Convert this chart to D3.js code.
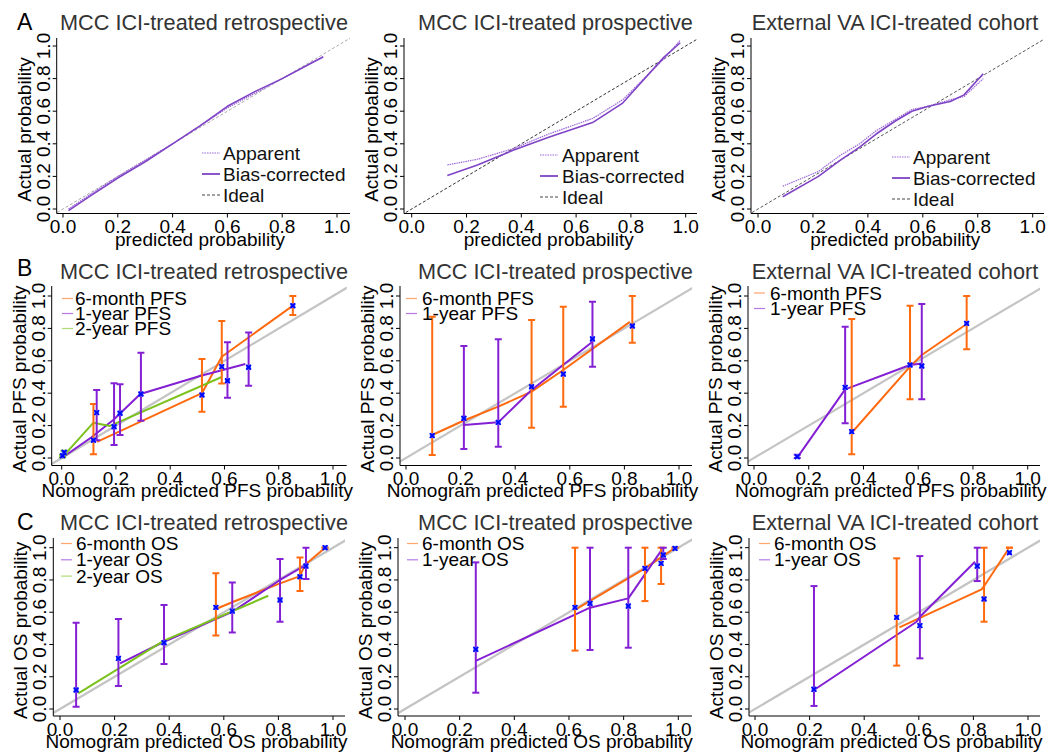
<!DOCTYPE html>
<html><head><meta charset="utf-8">
<script src="https://cdn.jsdelivr.net/npm/d3@7"></script>
<style>
body{margin:0;background:#fff;}
text{font-family:"Liberation Sans",Arial,sans-serif;}
</style></head><body>
<svg id="fig" width="1052" height="752"></svg>
<script>
// ---- data ----
const ticks = [0, 0.2, 0.4, 0.6, 0.8, 1.0];
const tickLabels = ["0.0", "0.2", "0.4", "0.6", "0.8", "1.0"];
const titles = ["MCC ICI-treated retrospective", "MCC ICI-treated prospective", "External VA ICI-treated cohort"];
const rowLetters = ["A", "B", "C"];

// row A : apparent / bias-corrected calibration curves
const aRetroApparent = [[0.02,0.0],[0.1,0.09],[0.2,0.2],[0.3,0.3],[0.4,0.4],[0.5,0.51],[0.6,0.62],[0.7,0.71],[0.8,0.8],[0.9,0.89],[0.95,0.93]];
const aRetroCorrected = [[0.02,-0.01],[0.1,0.08],[0.2,0.19],[0.3,0.29],[0.4,0.4],[0.5,0.51],[0.6,0.63],[0.7,0.72],[0.8,0.8],[0.9,0.89],[0.95,0.935]];
const aProsApparent = [[0.13,0.27],[0.24,0.305],[0.37,0.37],[0.5,0.46],[0.66,0.555],[0.77,0.67],[0.92,0.92],[0.98,1.035]];
const aProsCorrected = [[0.13,0.205],[0.24,0.27],[0.37,0.36],[0.5,0.44],[0.66,0.53],[0.77,0.65],[0.92,0.93],[0.98,1.02]];
const aExtApparent = [[0.09,0.14],[0.22,0.23],[0.3,0.33],[0.37,0.4],[0.43,0.48],[0.5,0.55],[0.56,0.61],[0.62,0.63],[0.7,0.67],[0.75,0.69],[0.82,0.8]];
const aExtCorrected = [[0.09,0.075],[0.22,0.2],[0.3,0.3],[0.37,0.38],[0.43,0.46],[0.5,0.54],[0.56,0.6],[0.62,0.63],[0.7,0.66],[0.75,0.7],[0.82,0.83]];

// row B : PFS  (points are [predicted, observed, lower, upper])
const bRetro6mLine = [[0.13,0.10],[0.517,0.40],[0.59,0.625],[0.855,0.944]];
const bRetro6mPts = [[0.117,0.11,0.023,0.333],[0.517,0.389,0.286,0.611],[0.59,0.564,0.46,0.846],[0.852,0.94,0.883,1.0]];
const bRetro1yLine = [[0.0,0.0],[0.11,0.128],[0.19,0.235],[0.29,0.395],[0.51,0.506],[0.677,0.58]];
const bRetro1yPts = [[0.129,0.28,0.11,0.42],[0.193,0.193,0.08,0.461],[0.215,0.276,0.142,0.455],[0.292,0.395,0.23,0.65],[0.611,0.477,0.372,0.714],[0.689,0.56,0.446,0.774]];
const bRetro2yLine = [[0.005,0.01],[0.117,0.218],[0.178,0.198],[0.59,0.50]];
const bRetro2yPts = [[0.009,0.035,0.025,0.045],[0.003,0.014,0.005,0.02]];

const bPros6mLine = [[0.096,0.142],[0.21,0.23],[0.338,0.317],[0.46,0.41],[0.576,0.543],[0.82,0.84]];
const bPros6mPts = [[0.096,0.138,0.019,0.872],[0.46,0.44,0.187,0.852],[0.576,0.518,0.317,0.934],[0.829,0.815,0.712,1.0]];
const bPros1yLine = [[0.212,0.204],[0.338,0.22],[0.46,0.42],[0.683,0.718]];
const bPros1yPts = [[0.212,0.245,0.056,0.691],[0.338,0.22,0.07,0.733],[0.683,0.735,0.564,0.965]];

const bExt6mLine = [[0.357,0.156],[0.57,0.564],[0.613,0.636],[0.777,0.827]];
const bExt6mPts = [[0.357,0.163,0.023,0.858],[0.57,0.574,0.362,0.94],[0.777,0.831,0.671,1.0]];
const bExt1yLine = [[0.156,-0.002],[0.333,0.424],[0.57,0.574],[0.613,0.584]];
const bExt1yPts = [[0.158,0.008,0.0,0.02],[0.333,0.436,0.214,0.81],[0.613,0.568,0.362,0.95]];

// row C : OS
const cRetro6mLine = [[0.571,0.62],[0.635,0.665],[0.806,0.779],[0.879,0.824],[0.897,0.893],[0.971,1.0]];
const cRetro6mPts = [[0.571,0.63,0.455,0.841],[0.879,0.82,0.731,0.94],[0.971,1.0,1.0,1.0]];
const cRetro1yLine = [[0.22,0.283],[0.381,0.417],[0.631,0.603],[0.806,0.8],[0.901,0.893]];
const cRetro1yPts = [[0.059,0.118,0.014,0.535],[0.214,0.314,0.143,0.558],[0.381,0.411,0.279,0.645],[0.631,0.607,0.475,0.785],[0.806,0.676,0.541,0.93],[0.901,0.886,0.806,1.0]];
const cRetro2yLine = [[0.067,0.097],[0.381,0.424],[0.763,0.702]];

const cPros6mLine = [[0.622,0.614],[0.878,0.872],[0.988,1.0]];
const cPros6mPts = [[0.622,0.63,0.362,1.0],[0.878,0.872,0.669,1.0],[0.937,0.903,0.775,1.0],[0.988,0.996,1.0,1.0]];
const cPros1yLine = [[0.259,0.298],[0.677,0.628],[0.817,0.686],[0.937,0.98]];
const cPros1yPts = [[0.259,0.37,0.101,0.909],[0.677,0.655,0.366,1.0],[0.817,0.638,0.38,1.0],[0.945,0.955,0.93,1.0]];

const cExt6mLine = [[0.529,0.506],[0.83,0.742],[0.842,0.769],[0.928,0.99]];
const cExt6mPts = [[0.519,0.568,0.269,0.934],[0.839,0.682,0.541,1.0],[0.932,0.969,1.0,1.0]];
const cExt1yLine = [[0.216,0.118],[0.592,0.541],[0.604,0.572],[0.806,0.913]];
const cExt1yPts = [[0.216,0.122,0.019,0.762],[0.604,0.517,0.314,0.948],[0.814,0.886,0.793,1.0]];

const legendA = ["Apparent", "Bias-corrected", "Ideal"];
const legendPFS = ["6-month PFS", "1-year PFS", "2-year PFS"];
const legendOS = ["6-month OS", "1-year OS", "2-year OS"];

// ---- styles ----
const ORANGE = "#ff6a0f", PURPLE = "#8420d4", GREEN = "#7cc21e", BLUE = "#0000ff";
const CAL = "#7f43c6";

// ---- layout (pixel frames for each panel) ----
const titleCenters = [204, 555.5, 895];
const rows = [
  {y0: 209, y1: 46, top: 38, bottom: 213.5, title: 29.5, tickBase: 233, xlab: 246, letter: 29.5,
   cols: [{left: 56.7, x0: 63, x1: 337, right: 350}, {left: 404, x0: 411.7, x1: 685.7, right: 697}, {left: 751, x0: 758, x1: 1032.7, right: 1044}]},
  {y0: 458, y1: 296, top: 286, bottom: 465.5, title: 278.5, tickBase: 485, xlab: 497, letter: 275.5,
   cols: [{left: 51.7, x0: 61.7, x1: 333, right: 346.7}, {left: 400, x0: 406, x1: 679, right: 692}, {left: 748, x0: 754, x1: 1027.7, right: 1040}]},
  {y0: 709, y1: 547.7, top: 538, bottom: 716, title: 529.5, tickBase: 736, xlab: 748, letter: 529.5,
   cols: [{left: 53.3, x0: 60, x1: 333, right: 345}, {left: 398, x0: 405, x1: 678.3, right: 692}, {left: 749, x0: 755, x1: 1028, right: 1040}]}
];

const svg = d3.select("#fig");
svg.append("rect").attr("width", 1052).attr("height", 752).attr("fill", "#fff");
const line = d3.line();
let clipId = 0;

function makePanel(r, c, ylab, xlab) {
  const R = rows[r], C = R.cols[c];
  const x = d3.scaleLinear().domain([0, 1]).range([C.x0, C.x1]);
  const y = d3.scaleLinear().domain([0, 1]).range([R.y0, R.y1]);
  const g = svg.append("g");
  const id = "clip" + (clipId++);
  g.append("clipPath").attr("id", id).append("rect")
    .attr("x", C.left).attr("y", R.top).attr("width", C.right - C.left).attr("height", R.bottom - R.top);
  const plot = g.append("g").attr("clip-path", "url(#" + id + ")");

  // frame (L shaped box)
  g.append("path").attr("d", `M${C.left},${R.top}V${R.bottom}H${C.right}`)
    .attr("fill", "none").attr("stroke", "#000").attr("stroke-width", 1);
  // x ticks
  g.selectAll(".xt").data(ticks).enter().append("line")
    .attr("x1", d => x(d)).attr("x2", d => x(d)).attr("y1", R.bottom).attr("y2", R.bottom + 4)
    .attr("stroke", "#000");
  g.selectAll(".xl").data(ticks).enter().append("text")
    .attr("x", d => x(d)).attr("y", R.tickBase).attr("text-anchor", "middle")
    .attr("font-size", 19).text((d, i) => tickLabels[i]);
  // y ticks
  g.selectAll(".yt").data(ticks).enter().append("line")
    .attr("x1", C.left - 4).attr("x2", C.left).attr("y1", d => y(d)).attr("y2", d => y(d))
    .attr("stroke", "#000");
  g.selectAll(".yl").data(ticks).enter().append("text")
    .attr("transform", d => `translate(${C.left - 7},${y(d)}) rotate(-90)`)
    .attr("text-anchor", "middle").attr("font-size", 19).text((d, i) => tickLabels[i]);
  // labels
  g.append("text").attr("x", (C.x0 + C.x1) / 2).attr("y", R.xlab).attr("text-anchor", "middle")
    .attr("font-size", 19).text(xlab);
  g.append("text").attr("transform", `translate(${C.left - 26},${(R.y0 + R.y1) / 2 + 2}) rotate(-90)`)
    .attr("text-anchor", "middle").attr("font-size", 19).text(ylab);
  g.append("text").attr("x", titleCenters[c]).attr("y", R.title).attr("text-anchor", "middle")
    .attr("font-size", 21.7).attr("fill", "#333").text(titles[c]);
  if (c === 0) {
    g.append("text").attr("x", 17).attr("y", R.letter).attr("font-size", 23).text(rowLetters[r]);
  }
  return {x, y, plot, g, R, C};
}

function drawCurve(p, data, color, width, dash) {
  p.plot.append("path").attr("d", line(data.map(d => [p.x(d[0]), p.y(d[1])])))
    .attr("fill", "none").attr("stroke", color).attr("stroke-width", width)
    .attr("stroke-dasharray", dash || null).attr("stroke-linejoin", "round");
}

function drawIdeal(p, color, width, dash) {
  p.plot.append("line").attr("x1", p.x(-0.1)).attr("y1", p.y(-0.1)).attr("x2", p.x(1.2)).attr("y2", p.y(1.2))
    .attr("stroke", color).attr("stroke-width", width).attr("stroke-dasharray", dash || null);
}

function drawBars(p, pts, color) {
  const b = p.plot.append("g").attr("stroke", color).attr("stroke-width", 2);
  pts.forEach(d => {
    const cx = p.x(d[0]);
    b.append("line").attr("x1", cx).attr("x2", cx).attr("y1", p.y(d[2])).attr("y2", p.y(d[3]));
    b.append("line").attr("x1", cx - 3.5).attr("x2", cx + 3.5).attr("y1", p.y(d[2])).attr("y2", p.y(d[2]));
    b.append("line").attr("x1", cx - 3.5).attr("x2", cx + 3.5).attr("y1", p.y(d[3])).attr("y2", p.y(d[3]));
  });
}

function drawMarks(p, pts) {
  const m = p.plot.append("g").attr("stroke", BLUE).attr("stroke-width", 1.6);
  pts.forEach(d => {
    const cx = p.x(d[0]), cy = p.y(d[1]), s = 2.4;
    m.append("rect").attr("x", cx - s).attr("y", cy - s).attr("width", 2 * s).attr("height", 2 * s)
      .attr("fill", "#4060ff").attr("stroke", "none");
    m.append("path").attr("d", `M${cx - s},${cy - s}L${cx + s},${cy + s}M${cx - s},${cy + s}L${cx + s},${cy - s}`);
  });
}

// ---- row A ----
const aCurves = [[aRetroApparent, aRetroCorrected], [aProsApparent, aProsCorrected], [aExtApparent, aExtCorrected]];
const aLegendPos = [{lx: 202, tx: 223, ly: 153}, {lx: 540, tx: 562, ly: 155}, {lx: 892, tx: 913, ly: 157}];
const idealColors = ["#aaa", "#333", "#555"];
aCurves.forEach((cv, c) => {
  const p = makePanel(0, c, "Actual probability", "predicted probability");
  drawIdeal(p, idealColors[c], 1, "3,2");
  drawCurve(p, cv[0], "#9a68d8", 1.2, "1.5,0.8");
  drawCurve(p, cv[1], CAL, 1.6);
  const L = aLegendPos[c];
  const styles = [["#9a68d8", 1.2, "1.5,1"], [CAL, 1.8, null], ["#444", 1, "3,2"]];
  legendA.forEach((t, i) => {
    const yy = L.ly + i * 21;
    p.g.append("line").attr("x1", L.lx).attr("x2", L.lx + 18).attr("y1", yy).attr("y2", yy)
      .attr("stroke", styles[i][0]).attr("stroke-width", styles[i][1]).attr("stroke-dasharray", styles[i][2]);
    p.g.append("text").attr("x", L.tx).attr("y", yy + 7).attr("font-size", 19).attr("fill", "#111").text(t);
  });
});

// ---- rows B and C ----
function calPanel(r, c, ylab, xlab, series, legendText, legPos) {
  const p = makePanel(r, c, ylab, xlab);
  drawIdeal(p, "#c4c4c4", 2.2);
  series.forEach(s => drawCurve(p, s.line, s.color, 2));
  series.forEach(s => { if (s.pts) drawBars(p, s.pts, s.color); });
  series.forEach(s => { if (s.pts) drawMarks(p, s.pts); });
  series.forEach((s, i) => {
    const yy = legPos.ly + i * legPos.step;
    p.g.append("line").attr("x1", legPos.lx).attr("x2", legPos.lx + 11).attr("y1", yy).attr("y2", yy)
      .attr("stroke", s.color).attr("stroke-width", 1.2).attr("stroke-opacity", 0.6);
    p.g.append("text").attr("x", legPos.tx).attr("y", yy + 6.5).attr("font-size", 19).text(legendText[i]);
  });
}

calPanel(1, 0, "Actual  PFS probability", "Nomogram predicted PFS probability",
  [{line: bRetro6mLine, pts: bRetro6mPts, color: ORANGE}, {line: bRetro1yLine, pts: bRetro1yPts, color: PURPLE}, {line: bRetro2yLine, pts: bRetro2yPts, color: GREEN}],
  legendPFS, {lx: 62, tx: 75, ly: 298.5, step: 15});
calPanel(1, 1, "Actual  PFS probability", "Nomogram predicted PFS probability",
  [{line: bPros6mLine, pts: bPros6mPts, color: ORANGE}, {line: bPros1yLine, pts: bPros1yPts, color: PURPLE}],
  legendPFS, {lx: 406, tx: 422, ly: 298.5, step: 15});
calPanel(1, 2, "Actual  PFS probability", "Nomogram predicted PFS probability",
  [{line: bExt6mLine, pts: bExt6mPts, color: ORANGE}, {line: bExt1yLine, pts: bExt1yPts, color: PURPLE}],
  legendPFS, {lx: 754, tx: 770, ly: 293, step: 15.5});

calPanel(2, 0, "Actual  OS probability", "Nomogram predicted OS probability",
  [{line: cRetro6mLine, pts: cRetro6mPts, color: ORANGE}, {line: cRetro1yLine, pts: cRetro1yPts, color: PURPLE}, {line: cRetro2yLine, color: GREEN}],
  legendOS, {lx: 61, tx: 76, ly: 543.5, step: 16.3});
calPanel(2, 1, "Actual  OS probability", "Nomogram predicted OS probability",
  [{line: cPros6mLine, pts: cPros6mPts, color: ORANGE}, {line: cPros1yLine, pts: cPros1yPts, color: PURPLE}],
  legendOS, {lx: 407, tx: 422, ly: 543.5, step: 16.3});
calPanel(2, 2, "Actual  OS probability", "Nomogram predicted OS probability",
  [{line: cExt6mLine, pts: cExt6mPts, color: ORANGE}, {line: cExt1yLine, pts: cExt1yPts, color: PURPLE}],
  legendOS, {lx: 759, tx: 774, ly: 543.5, step: 16.3});
</script></body></html>
